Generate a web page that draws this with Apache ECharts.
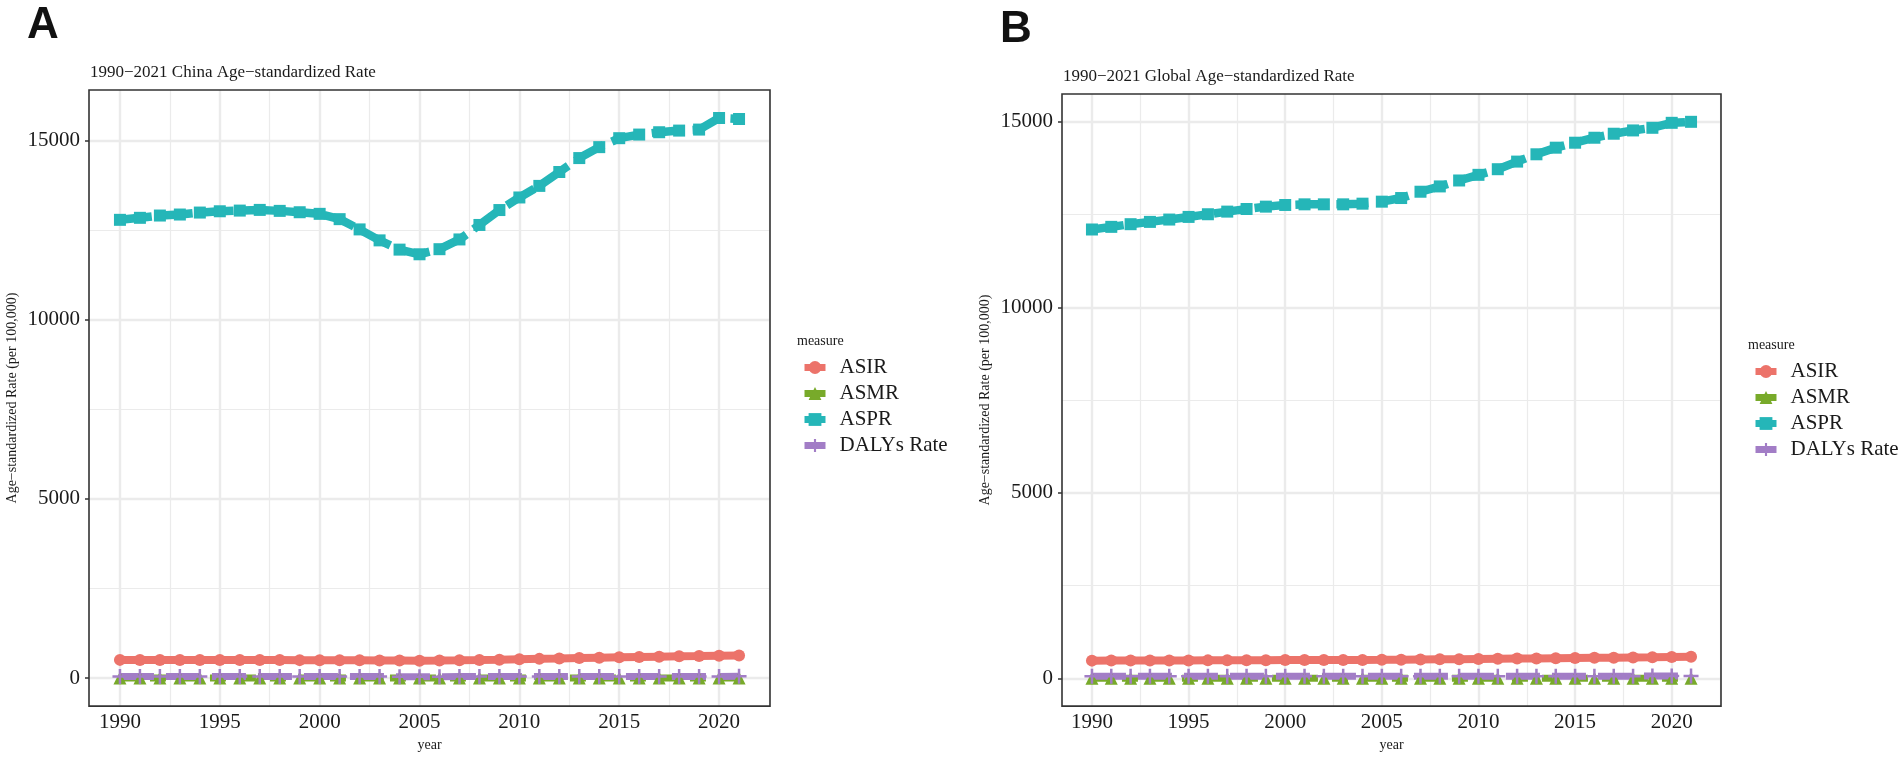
<!DOCTYPE html>
<html><head><meta charset="utf-8">
<script src="https://cdn.jsdelivr.net/npm/echarts@6/dist/echarts.min.js"></script>
<style>html,body{margin:0;padding:0;background:#fff}#c{width:1902px;height:757px}</style>
</head><body><div id="c"></div>
<script>
const years = [1990,1991,1992,1993,1994,1995,1996,1997,1998,1999,2000,2001,2002,2003,2004,2005,2006,2007,2008,2009,2010,2011,2012,2013,2014,2015,2016,2017,2018,2019,2020,2021];
const measures = ['ASIR','ASMR','ASPR','DALYs Rate'];

const chinaASIR = [510,509,508,507,506,506,506,505,504,503,502,500,497,493,490,487,490,497,506,516,527,538,549,560,571,582,592,600,608,616,628,634];
const chinaASMR = [2.1,2.1,2.0,2.0,2.0,2.0,1.9,1.9,1.9,1.9,1.8,1.8,1.8,1.7,1.7,1.7,1.7,1.7,1.7,1.7,1.7,1.7,1.7,1.7,1.7,1.7,1.7,1.7,1.7,1.7,1.7,1.7];
const chinaASPR = [12787,12843,12907,12935,12990,13026,13045,13064,13037,12999,12954,12806,12520,12214,11956,11826,11968,12240,12644,13060,13411,13734,14122,14510,14815,15065,15166,15231,15277,15305,15628,15600];
const chinaDALYs = [46,46,46,45,45,45,45,45,44,44,44,44,43,43,42,42,42,43,43,44,44,45,45,46,46,47,47,48,48,49,49,50];

const globalASIR = [478,479,480,481,482,484,485,486,488,490,492,494,495,497,498,500,503,508,513,518,523,528,533,538,543,548,553,558,563,568,575,581];
const globalASMR = [2.6,2.6,2.6,2.5,2.5,2.5,2.5,2.5,2.4,2.4,2.4,2.4,2.4,2.4,2.3,2.3,2.3,2.3,2.3,2.3,2.3,2.3,2.3,2.3,2.3,2.3,2.3,2.3,2.3,2.3,2.3,2.3];
const globalASPR = [12098,12169,12241,12303,12366,12437,12509,12580,12651,12714,12759,12776,12776,12776,12794,12848,12946,13116,13259,13419,13571,13723,13928,14125,14303,14437,14571,14679,14768,14839,14973,15000];
const globalDALYs = [55,55,55,55,54,54,54,54,54,54,54,54,54,54,54,54,55,55,55,56,56,57,57,58,58,59,59,60,60,61,61,62];

const xMajor = [1990,1995,2000,2005,2010,2015,2020];
const xMinor = [1992.5,1997.5,2002.5,2007.5,2012.5,2017.5,2022.5];
const yMajor = [0,5000,10000,15000];
const yMinor = [2500,7500,12500];

const panelLetters = ['A','B'];
const panelTitles = ['1990\u22122021 China Age\u2212standardized Rate','1990\u22122021 Global Age\u2212standardized Rate'];
const yName = 'Age\u2212standardized Rate (per 100,000)';
const xName = 'year';
const legendTitle = 'measure';

const panels = [
  [chinaASIR, chinaASMR, chinaASPR, chinaDALYs],
  [globalASIR, globalASMR, globalASPR, globalDALYs]
];

const SERIF = 'Liberation Serif';
const TXT = '#1a1a1a';
const PLUS = 'path://M5,0h2v5h5v2h-5v5h-2v-5h-5v-2h5z';
const colors = ['#EC736A','#78AA2A','#25B6B8','#A27DC6'];
const symbols = ['circle','triangle','rect',PLUS];
const symbolSizes = [12,13,12,15];
const dashes = ['solid',[16,14],[32,9],[34,12]];
const widths = [8,7,8.5,7];

const grids = [
  {left:89, top:90, width:681, height:617},
  {left:1062, top:94, width:659, height:613}
];

function pairs(vals){ return years.map((y,i)=>[y, vals[i]]); }

const xAxes = [], yAxes = [], series = [], legends = [], graphics = [];
const xLo = years[0] - 0.05*(years[years.length-1]-years[0]);
const xHi = years[years.length-1] + 0.05*(years[years.length-1]-years[0]);

panels.forEach((arrs, p) => {
  const all = [].concat(...arrs);
  const mn = Math.min(...all), mx = Math.max(...all);
  const lo = mn - 0.05*(mx-mn), hi = mx + 0.05*(mx-mn);
  xAxes.push({
    type:'value', gridIndex:p, min:xLo, max:xHi,
    axisLine:{show:false}, splitLine:{show:false},
    axisTick:{show:true, customValues:xMajor, length:4, lineStyle:{color:'#333', width:1.5}},
    axisLabel:{customValues:xMajor, formatter:v=>String(Math.round(v)), fontFamily:SERIF, fontSize:21, color:TXT, margin:6},
    name:xName, nameLocation:'middle', nameGap:30,
    nameTextStyle:{fontFamily:SERIF, fontSize:14, color:TXT}
  });
  yAxes.push({
    type:'value', gridIndex:p, min:lo, max:hi,
    axisLine:{show:false}, splitLine:{show:false},
    axisTick:{show:true, customValues:yMajor, length:4, lineStyle:{color:'#333', width:1.5}},
    axisLabel:{customValues:yMajor, formatter:v=>String(Math.round(v)), fontFamily:SERIF, fontSize:21, color:TXT, margin:9},
    name:yName, nameLocation:'middle', nameGap:70, nameRotate:90,
    nameTextStyle:{fontFamily:SERIF, fontSize:14, color:TXT}
  });
  const ml = [];
  xMajor.forEach(v=>ml.push({xAxis:v, lineStyle:{width:2.4}}));
  xMinor.filter(v=>v<xHi).forEach(v=>ml.push({xAxis:v, lineStyle:{width:1.2}}));
  yMajor.forEach(v=>ml.push({yAxis:v, lineStyle:{width:2.4}}));
  yMinor.filter(v=>v<hi).forEach(v=>ml.push({yAxis:v, lineStyle:{width:1.2}}));
  series.push({
    type:'line', name:'grid'+p, xAxisIndex:p, yAxisIndex:p, data:[], silent:true, z:1,
    markLine:{silent:true, z:1, symbol:['none','none'], label:{show:false}, animation:false,
      lineStyle:{color:'#EBEBEB', type:'solid'}, data:ml}
  });
  arrs.forEach((vals, k) => {
    series.push({
      type:'line', name:measures[k], xAxisIndex:p, yAxisIndex:p, data:pairs(vals), z:3,
      symbol:symbols[k], symbolSize:symbolSizes[k], showAllSymbol:true,
      lineStyle:{color:colors[k], width:widths[k], type:dashes[k], cap:'butt'},
      itemStyle:{color:colors[k], borderWidth:0}
    });
  });
  const g = grids[p];
  const legLeft = g.left + g.width + 31;
  legends.push({
    data:measures, orient:'vertical', left:legLeft, top:g.top + 267, padding:0,
    itemWidth:21, itemHeight:16, itemGap:5, selectedMode:false,
    lineStyle:{width:7, type:'solid'},
    textStyle:{fontFamily:SERIF, fontSize:21, lineHeight:21, color:TXT, padding:[0,0,0,9]}
  });
  graphics.push({type:'text', left:legLeft - 4, top:g.top + 244, style:{text:legendTitle, font:'14px "Liberation Serif"', fill:TXT}});
  graphics.push({type:'text', left:g.left - 62, top:g.top - 86, style:{text:panelLetters[p], font:'bold 44px "Liberation Sans"', fill:'#111'}});
  graphics.push({type:'text', left:g.left + 1, top:g.top - 26, style:{text:panelTitles[p], font:'17px "Liberation Serif"', fill:TXT}});
});

const chart = echarts.init(document.getElementById('c'));
chart.setOption({
  animation:false,
  backgroundColor:'#fff',
  grid:grids.map(g=>Object.assign({show:true, borderColor:'#333', borderWidth:1.6, backgroundColor:'transparent', z:4}, g)),
  xAxis:xAxes, yAxis:yAxes, legend:legends, series:series, graphic:graphics
});
</script></body></html>
